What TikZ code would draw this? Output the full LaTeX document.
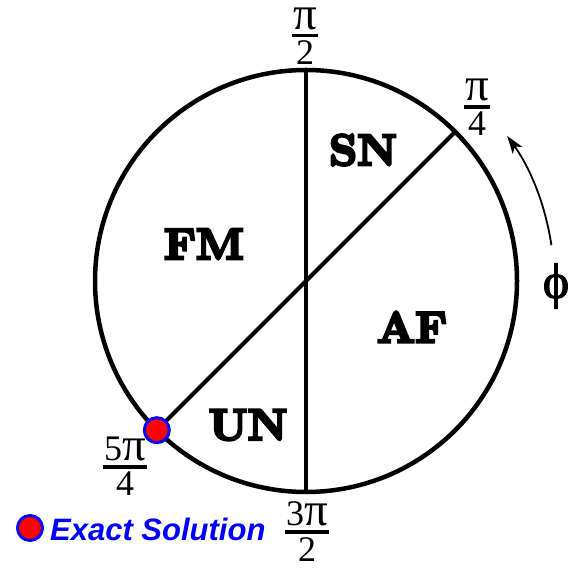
\documentclass[tikz,border=0pt]{standalone}
\usepackage{fontspec}
\usetikzlibrary{arrows.meta,calc}
\newfontfamily\tms{Liberation Serif}
\newfontface\tmsb{Liberation Serif}[FakeBold=2]
\newfontfamily\arl{Liberation Sans}
\newfontface\rgn{lmroman10-bold.otf}[FakeBold=6]
\newcommand\mypi{{\fontsize{47}{47}\selectfont π}}
\newcommand\myfr[2]{{\fontsize{36}{36}\selectfont\tms
  \setbox0\hbox{#1}\setbox2\hbox{#2}%
  \dimen0=\ifdim\wd0>\wd2 \wd0\else\wd2\fi \advance\dimen0 by 3pt
  \vbox{\hbox to\dimen0{\hss\box0\hss}\kern4pt\hrule height 3.5pt\kern3.5pt\hbox to\dimen0{\hss\box2\hss}}}}
\begin{document}
\begin{tikzpicture}[x=1pt,y=1pt,
  region/.style={inner sep=0pt, font=\fontsize{44}{44}\selectfont\rgn},
  anglbl/.style={inner sep=0pt},
  solpt/.style={circle, fill=red, draw=blue, line width=3pt, minimum size=25pt, inner sep=0pt},
  bound/.style={line width=4pt},
]
\useasboundingbox (0,0) rectangle (585,569);
\coordinate (O) at (306,288);
\draw[line width=4.5pt] (O) circle[radius=211pt];
\coordinate (top) at ($(O)+(90:211pt)$);
\coordinate (bot) at ($(O)+(270:211pt)$);
\coordinate (ne) at ($(O)+(45:211pt)$);
\coordinate (sw) at ($(O)+(225:211pt)$);
\draw[bound] (top) -- (bot);
\draw[bound] (ne) -- (sw);
\node[solpt] (dot) at (sw) {};
% region labels
\node[region] (SN) at (363,419) {SN};
\node[region] (FM) at (204,325) {FM};
\node[region] (AF) at (412,242) {AF};
\node[region] (UN) at (248,144) {UN};
% angle labels
\node[anglbl] (l1) at (305,533) {\myfr{\mypi}{2}};
\node[anglbl] (l2) at (477,461.5) {\myfr{\mypi}{4}};
\node[anglbl] (l3) at (125,102.5) {\myfr{5\mypi}{4}};
\node[anglbl] (l4) at (307,37.5) {\myfr{3\mypi}{2}};
% phi arrow
\coordinate (as) at ($(O)+(8.3:248pt)$);
\draw[line width=1.8pt, -{Stealth[length=18pt,width=12pt,inset=5pt]}] (as) arc[start angle=8.3, end angle=35.8, radius=248pt];
\node[inner sep=0pt, font=\fontsize{50}{50}\selectfont\tmsb] (phi) at (556,283) {ϕ};
% legend
\node[solpt] (ldot) at (30,41) {};
\node[anchor=west, inner sep=0pt, text=blue, font=\fontsize{31}{31}\selectfont\arl\bfseries\itshape] (ltxt) at (50,40) {Exact Solution};
\end{tikzpicture}
\end{document}
